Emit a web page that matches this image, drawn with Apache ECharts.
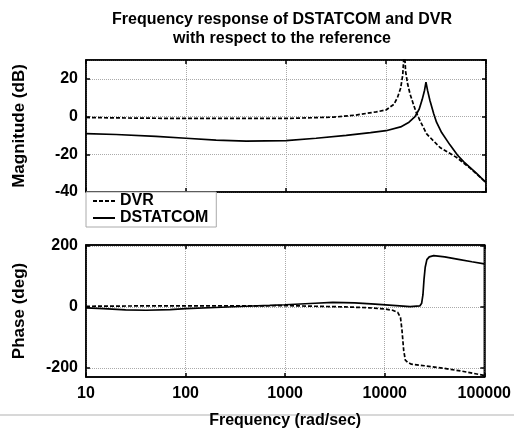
<!DOCTYPE html>
<html>
<head>
<meta charset="utf-8">
<script src="https://cdn.jsdelivr.net/npm/echarts@6/dist/echarts.min.js"></script>
<style>
  html, body { margin: 0; padding: 0; background: #fff; }
  #chart { width: 514px; height: 430px; }
</style>
</head>
<body>
<div id="chart"></div>
<script>
'use strict';

// frequency (rad/sec), value pairs
var magDVR = [
  [10, -0.5], [30, -0.8], [100, -1], [300, -1], [1000, -1], [3000, -0.3], [5000, 0.8],
  [8000, 2.5], [10000, 3.5], [12000, 6.5], [13000, 10], [14000, 15], [14700, 22],
  [15250, 36], [15700, 24], [16500, 17], [17400, 12], [18800, 6.5], [20000, 2.3],
  [22500, -3.5], [25500, -9.2], [30000, -13], [34700, -16.4], [50900, -21.7],
  [70000, -27.5], [100000, -35]
];
var magDSTATCOM = [
  [10, -9], [20, -9.5], [50, -10.5], [100, -11.5], [200, -12.5], [400, -13], [1000, -12.8],
  [2000, -11.5], [4000, -10], [7000, -8.5], [10000, -7.5], [14000, -5.5], [17000, -3],
  [19500, 0], [21500, 4], [23000, 9], [24300, 14], [25100, 18.3], [26000, 14],
  [27500, 8.5], [30000, 1.5], [32000, -3], [36000, -8.5], [43600, -15], [52000, -20.5],
  [60000, -24], [80000, -30], [100000, -35]
];
var phaseDVR = [
  [10, 2], [30, 3], [100, 3], [300, 3], [1000, 4], [2000, 2], [4000, 0], [7000, -3],
  [10000, -7], [12000, -11], [13500, -18], [14400, -35], [14900, -76], [15500, -142],
  [16100, -175], [17000, -182], [18500, -188], [25000, -193], [40000, -202],
  [60000, -211], [100000, -225]
];
var phaseDSTATCOM = [
  [10, -3], [15, -6], [25, -10], [40, -11], [70, -9], [100, -6], [200, -2], [400, 2],
  [700, 5], [1000, 7], [2000, 12], [3000, 15], [5000, 13], [8000, 9], [12000, 5],
  [18000, 1], [22500, 3], [23500, 12], [24200, 40], [24800, 90], [25500, 130],
  [26500, 155], [28000, 164], [31000, 168], [40000, 164], [55000, 156], [75000, 148],
  [100000, 141]
];
var magTicks = [-40, -20, 0, 20];
var phaseTicks = [-200, 0, 200];

var font = '"Liberation Sans", Arial, sans-serif';
var gridLine = { show: true, lineStyle: { color: '#aaa', type: [1, 1], width: 1 } };
var tick = { show: true, inside: true, length: 4, lineStyle: { color: '#000', width: 1.5 } };
var line = { show: true, onZero: false, lineStyle: { color: '#000', width: 1.5 } };
var label = { color: '#000', fontFamily: font, fontWeight: 'bold', fontSize: 16 };

function xAxisFor(grid, pos, showLabel) {
  return {
    type: 'log', logBase: 10, min: 10, max: 100000, gridIndex: grid, position: pos,
    axisLine: line, axisTick: tick,
    splitLine: pos === 'bottom' ? gridLine : { show: false },
    axisLabel: Object.assign({ show: showLabel, margin: 9, formatter: function (v) { return String(Math.round(v)); } }, label),
    name: showLabel ? 'Frequency (rad/sec)' : '', nameLocation: 'middle', nameGap: 36,
    nameTextStyle: { color: '#000', fontFamily: font, fontWeight: 'bold', fontSize: 16 }
  };
}

var option = {
  animation: false,
  backgroundColor: '#fff',
  title: {
    text: 'Frequency response of DSTATCOM and DVR\nwith respect to the reference',
    left: 277, top: 5, textAlign: 'center',
    textStyle: { color: '#000', fontFamily: font, fontWeight: 'bold', fontSize: 16, lineHeight: 19 }
  },
  legend: {
    data: ['DVR', 'DSTATCOM'],
    orient: 'vertical', left: 86, top: 192,
    itemWidth: 22, itemHeight: 14, itemGap: 1,
    padding: [1, 8, 1, 6],
    borderColor: '#aaa', borderWidth: 1, borderRadius: 0, backgroundColor: '#fff',
    itemStyle: { opacity: 0 },
    textStyle: { color: '#000', fontFamily: font, fontWeight: 'bold', fontSize: 16, lineHeight: 15 }
  },
  graphic: [{
    type: 'rect', left: 0, top: 414, shape: { width: 514, height: 2 },
    style: { fill: '#d8d8d8' }, silent: true
  }],
  grid: [
    { left: 86, top: 60, width: 400, height: 132, show: true, borderColor: '#000', borderWidth: 1.5 },
    { left: 86, top: 245, width: 400, height: 133, show: true, borderColor: '#000', borderWidth: 1.5 }
  ],
  xAxis: [
    xAxisFor(0, 'bottom', false),
    xAxisFor(1, 'bottom', true),
    xAxisFor(0, 'top', false),
    xAxisFor(1, 'top', false)
  ],
  yAxis: [
    {
      type: 'value', gridIndex: 0, min: -40, max: 30, interval: 20,
      axisLine: line, axisTick: tick, splitLine: gridLine,
      axisLabel: Object.assign({ margin: 8, showMaxLabel: false }, label),
      name: 'Magnitude (dB)', nameLocation: 'middle', nameGap: 58,
      nameTextStyle: { color: '#000', fontFamily: font, fontWeight: 'bold', fontSize: 17 }
    },
    {
      type: 'value', gridIndex: 1, min: -230, max: 203,
      axisLine: line,
      axisTick: Object.assign({ customValues: phaseTicks }, tick),
      splitLine: gridLine,
      axisLabel: Object.assign({ margin: 8, customValues: phaseTicks }, label),
      name: 'Phase (deg)', nameLocation: 'middle', nameGap: 58,
      nameTextStyle: { color: '#000', fontFamily: font, fontWeight: 'bold', fontSize: 17 }
    },
    {
      type: 'value', gridIndex: 0, min: -40, max: 30, interval: 20, position: 'right',
      axisLine: line, axisTick: tick, splitLine: { show: false }, axisLabel: { show: false }
    },
    {
      type: 'value', gridIndex: 1, min: -230, max: 203, position: 'right',
      axisLine: line, axisTick: Object.assign({ customValues: phaseTicks }, tick),
      splitLine: { show: false }, axisLabel: { show: false, customValues: phaseTicks }
    }
  ],
  series: [
    {
      name: 'DVR', type: 'line', xAxisIndex: 0, yAxisIndex: 0, data: magDVR,
      symbol: 'none', lineStyle: { color: '#000', width: 1.7, type: [4, 2] }, itemStyle: { color: '#000' }
    },
    {
      name: 'DSTATCOM', type: 'line', xAxisIndex: 0, yAxisIndex: 0, data: magDSTATCOM,
      symbol: 'none', lineStyle: { color: '#000', width: 1.7 }, itemStyle: { color: '#000' }
    },
    {
      name: 'DVR', type: 'line', xAxisIndex: 1, yAxisIndex: 1, data: phaseDVR,
      symbol: 'none', lineStyle: { color: '#000', width: 1.7, type: [4, 2] }, itemStyle: { color: '#000' }
    },
    {
      name: 'DSTATCOM', type: 'line', xAxisIndex: 1, yAxisIndex: 1, data: phaseDSTATCOM,
      symbol: 'none', lineStyle: { color: '#000', width: 1.7 }, itemStyle: { color: '#000' }
    }
  ]
};

var chart = echarts.init(document.getElementById('chart'), null, { renderer: 'canvas' });
chart.setOption(option);
</script>
</body>
</html>
